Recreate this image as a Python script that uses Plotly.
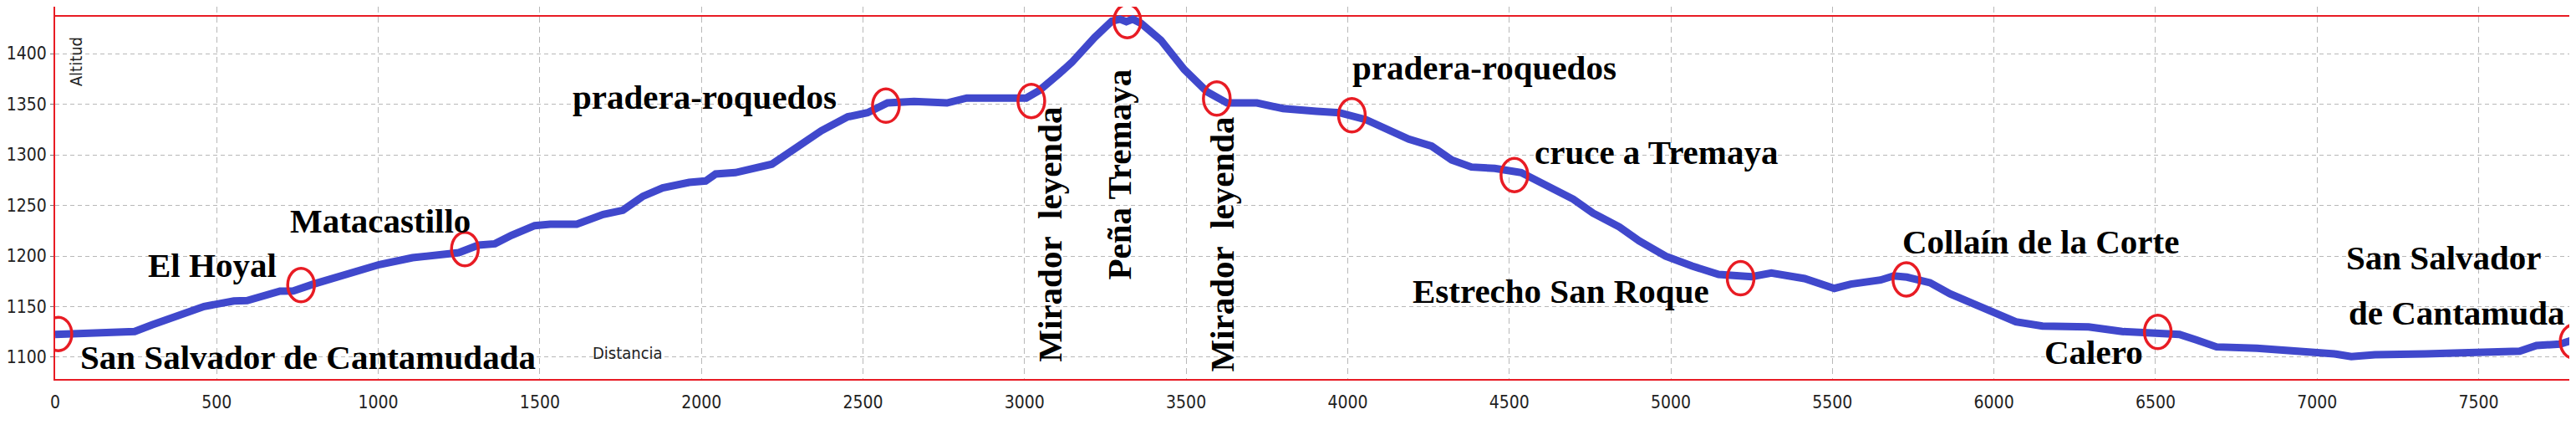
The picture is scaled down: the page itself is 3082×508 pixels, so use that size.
import plotly.graph_objects as go

# ---------------- data ----------------
DIST = [0, 110, 246, 300, 379, 461, 553, 594, 696, 737, 799, 881, 1003, 1106, 1249, 1310,
        1361, 1412, 1484, 1532, 1614, 1696, 1757, 1819, 1880, 1962, 2013, 2044, 2105, 2218,
        2289, 2371, 2453, 2514, 2576, 2658, 2760, 2821, 3005, 3046, 3107, 3146, 3217, 3270,
        3295, 3315, 3335, 3361, 3422, 3494, 3565, 3627, 3719, 3800, 3903, 3974, 4056, 4117,
        4189, 4260, 4322, 4383, 4455, 4537, 4636, 4698, 4759, 4841, 4902, 4984, 5066, 5148,
        5250, 5311, 5414, 5506, 5557, 5649, 5690, 5731, 5802, 5864, 5946, 6007, 6068, 6150,
        6200, 6293, 6397, 6501, 6574, 6626, 6689, 6814, 6981, 7054, 7106, 7179, 7335, 7544,
        7627, 7679, 7752, 7804]
ALT = [1122.6, 1124.0, 1125.4, 1132.0, 1140.5, 1150.1, 1155.6, 1156.0, 1165.3, 1165.5, 1172.2,
       1180.4, 1191.5, 1198.3, 1203.3, 1210.7, 1212.1, 1220.4, 1230.0, 1231.4, 1231.4, 1241.0,
       1245.2, 1259.0, 1267.2, 1272.7, 1274.1, 1281.0, 1282.4, 1290.7, 1305.8, 1323.7, 1337.5,
       1341.6, 1351.2, 1352.6, 1351.2, 1356.0, 1356.0, 1363.6, 1380.0, 1391.2, 1416.0, 1432.0,
       1434.0, 1431.5, 1434.0, 1429.8, 1413.2, 1384.3, 1362.2, 1351.2, 1351.2, 1345.7, 1343.0,
       1341.6, 1334.7, 1325.0, 1315.5, 1308.5, 1294.8, 1287.9, 1286.5, 1282.4, 1267.2, 1256.2,
       1242.4, 1228.7, 1214.9, 1199.8, 1190.1, 1181.8, 1179.6, 1183.2, 1177.7, 1168.0, 1172.2,
       1176.3, 1180.4, 1179.1, 1173.6, 1162.6, 1151.5, 1143.2, 1135.0, 1130.8, 1130.5, 1130.0,
       1125.4, 1124.0, 1122.6, 1117.1, 1110.2, 1108.8, 1106.0, 1103.3, 1100.6, 1102.5, 1103.3,
       1104.7, 1106.0, 1111.6, 1113.0, 1118.4]

# waypoints circled in red
MARK_DIST = [10, 761, 1268, 2571, 3021, 3318, 3595, 4013, 4516, 5216, 5729, 6507, 7794]
MARK_ALT = [1123, 1171.3, 1206.9, 1348.5, 1353.2, 1432.0, 1355.6, 1339.1, 1280.0, 1178.0,
            1176.9, 1125.0, 1115.5]

# waypoint labels
LABELS = ["San Salvador de Cantamudada", "El Hoyal", "Matacastillo", "pradera-roquedos",
          "pradera-roquedos", "cruce a Tremaya", "Estrecho San Roque", "Collaín de la Corte",
          "Calero", "San Salvador", "de Cantamuda"]
VLABELS = ["Mirador\u00a0\u00a0leyenda", "Peña Tremaya", "Mirador\u00a0\u00a0leyenda"]

X_TICKS = list(range(0, 8000, 500))
Y_TICKS = list(range(1100, 1450, 50))

# ---------------- layout constants ----------------
X_RANGE = [0, 7822]
Y_RANGE = [1078.5, 1446.3]
Y_TOPLINE = 1437.2
RED = "rgb(232,28,36)"
BLUE = "rgb(64,72,204)"
GRID = "#b8b8b8"
SERIF = "Liberation Serif, Times New Roman, serif"
NARROW = "Liberation Sans Narrow, Arial Narrow, DejaVu Sans Condensed, sans-serif"

LABEL_POS = [(72, 1099.6), (281, 1191.0), (721, 1235.1), (1595, 1357.1), (4009, 1385.8),
             (4573, 1302.1), (4196, 1165.1), (5711, 1213.9), (6151, 1105.0), (7085, 1198.7),
             (7093, 1143.6)]
VLABEL_POS = [(3078, 1221.7), (3292, 1280.3), (3612, 1211.4)]

fig = go.Figure()
fig.add_trace(go.Scatter(x=DIST, y=ALT, mode="lines",
                         line=dict(color=BLUE, width=9), hoverinfo="skip"))

shapes = []
# top red border and end cursor line
shapes.append(dict(type="line", xref="paper", x0=0, x1=1, yref="y", y0=Y_TOPLINE, y1=Y_TOPLINE,
                   line=dict(color=RED, width=2), layer="below"))
shapes.append(dict(type="line", xref="x", x0=DIST[-1], x1=DIST[-1], yref="paper", y0=0, y1=1,
                   line=dict(color="#555555", width=1.5), layer="below"))
for d, a in zip(MARK_DIST, MARK_ALT):
    shapes.append(dict(type="circle", xref="x", yref="y", xsizemode="pixel", ysizemode="pixel",
                       xanchor=d, yanchor=a, x0=-16, x1=16, y0=-20, y1=20,
                       line=dict(color=RED, width=3.5), layer="above"))

annotations = []
for t, (x, y) in zip(LABELS, LABEL_POS):
    annotations.append(dict(text=t, x=x, y=y, xref="x", yref="y", xanchor="left",
                            yanchor="middle", showarrow=False,
                            font=dict(family=SERIF, size=41, color="black", weight="bold")))
for t, (x, y) in zip(VLABELS, VLABEL_POS):
    annotations.append(dict(text=t, x=x, y=y, xref="x", yref="y", xanchor="center",
                            yanchor="middle", showarrow=False, textangle=-90,
                            font=dict(family=SERIF, size=41, color="black", weight="bold")))
annotations.append(dict(text="Altitud", x=65, y=1391.7, xref="x", yref="y", textangle=-90,
                        xanchor="center", yanchor="middle", showarrow=False,
                        font=dict(family=NARROW, size=20, color="#222222")))
annotations.append(dict(text="Distancia", x=1659, y=1104.1, xref="x", yref="y",
                        xanchor="left", yanchor="middle", showarrow=False,
                        font=dict(family=NARROW, size=20, color="#222222")))

fig.update_layout(
    width=3082, height=508,
    margin=dict(l=58, r=0, t=0, b=63, pad=0),
    paper_bgcolor="white", plot_bgcolor="white",
    showlegend=False,
    shapes=shapes, annotations=annotations,
    xaxis=dict(range=X_RANGE, tickvals=X_TICKS, showgrid=True, gridcolor=GRID,
               griddash="7px,5px", gridwidth=1, zeroline=False, showline=True,
               linecolor=RED, linewidth=2, ticks="", tickfont=dict(family=NARROW, size=21,
               color="#222222"), ticklabelstandoff=8),
    yaxis=dict(range=Y_RANGE, tickvals=Y_TICKS, showgrid=True, gridcolor=GRID,
               griddash="5px,4px", gridwidth=1, zeroline=False, showline=True,
               linecolor=RED, linewidth=2, ticks="outside", ticklen=4, tickcolor="#777777",
               tickfont=dict(family=NARROW, size=21, color="#222222")),
)

fig.write_html("out.html")
